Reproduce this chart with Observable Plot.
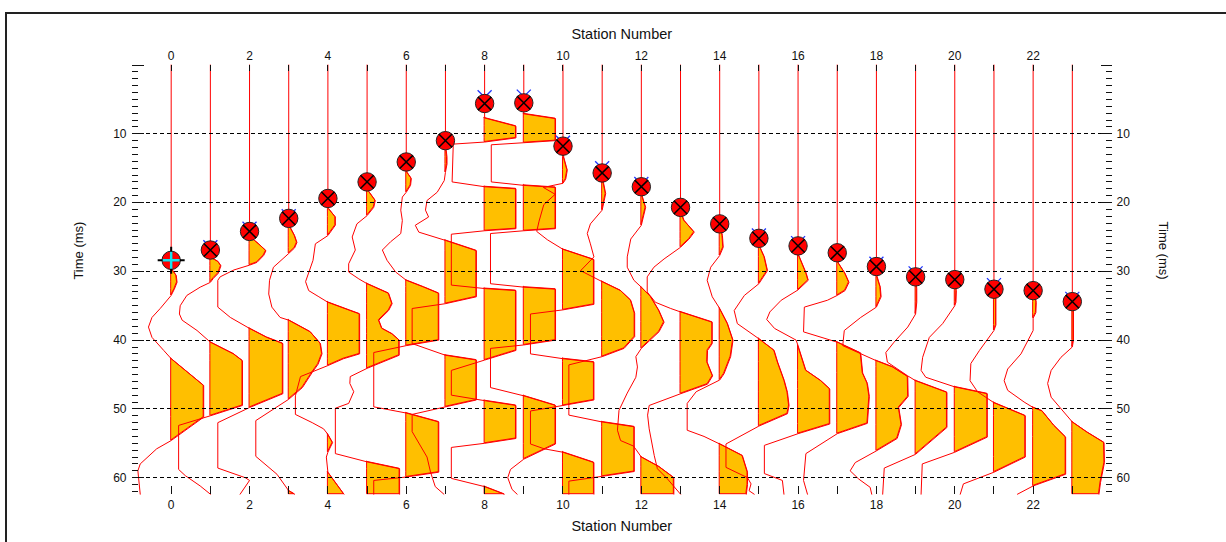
<!DOCTYPE html>
<html>
<head>
<meta charset="utf-8">
<script src="https://cdn.jsdelivr.net/npm/d3@7"></script>
<script src="https://cdn.jsdelivr.net/npm/@observablehq/plot@0.6"></script>
<style>
  html, body { margin: 0; padding: 0; background: #fff; }
  #wrap { position: relative; width: 1226px; height: 542px; overflow: hidden; background: #fff; }
  #edge { position: absolute; left: 5px; top: 12px; width: 1400px; height: 800px;
          border-left: 2px solid #222; border-top: 2px solid #222; }
  #chart { position: absolute; left: 0; top: 0; }
</style>
</head>
<body>
<div id="wrap"><div id="edge"></div><div id="chart"></div></div>
<script>
// Shot gather: one wiggle trace per station, first-break picks on top.
const stationNumbers = [0,1,2,3,4,5,6,7,8,9,10,11,12,13,14,15,16,17,18,19,20,21,22,23];
const stationLabels = [0,2,4,6,8,10,12,14,16,18,20,22];
const timeLabels = [10,20,30,40,50,60];

// First-break picks (ms), one per station
const firstBreaks = [28.4,26.9,24.2,22.3,19.4,17.0,14.1,11.0,5.6,5.5,11.8,15.7,17.7,20.7,23.1,25.2,26.3,27.3,29.3,30.8,31.2,32.6,32.8,34.4];
// Secondary (blue) picks
const altStations = [1,2,3,8,9,10,11,12,15,16,18,19,21,23];
const altBreaks = [26.5,23.8,22.0,4.7,4.6,11.3,15.0,17.3,24.8,25.9,28.9,30.3,32.0,34.0];
// Source position marker
const sourceStations = [0];

// Trace samples: [time ms, amplitude in station spacings]
const trace00 = [[0,0],[28.4,0],[29.8,0.03],[30.6,0.13],[31.6,0.15],[32.6,0.08],[33.5,0],[35.4,-0.28],[36.7,-0.49],[38.1,-0.58],[39.6,-0.49],[41.5,-0.19],[42.7,0],[46.6,0.83],[51.2,0.83],[54.6,0],[55.8,-0.37],[58.0,-0.79],[59.0,-0.85],[62.4,-0.79]];
const trace01 = [[0,0],[26.9,0],[28.0,0.02],[28.6,0.2],[29.2,0.27],[30.3,0.2],[31.0,0.08],[31.6,0],[32.3,-0.26],[33.5,-0.6],[35.0,-0.77],[36.2,-0.79],[37.1,-0.72],[38.6,-0.34],[40.3,0],[42.0,0.59],[43.0,0.82],[49.5,0.82],[51.0,0],[52.4,-0.81],[58.8,-0.81],[59.7,-0.64],[61.2,-0.26],[62.4,0]];
const trace02 = [[0,0],[24.2,0],[25.0,0.02],[26.0,0.23],[27.0,0.42],[27.7,0.36],[28.7,0.19],[29.1,0],[29.8,-0.4],[30.8,-0.75],[31.3,-0.81],[35.2,-0.81],[36.7,-0.49],[38.3,0],[39.6,0.44],[40.5,0.85],[47.8,0.85],[49.8,0],[52.0,-0.81],[58.6,-0.81],[60.0,-0.11],[60.4,0],[62.4,-0.24]];
const trace03 = [[0,0],[22.3,0],[23.4,0.02],[24.8,0.15],[25.8,0.21],[26.6,0.15],[27.4,0],[29.4,-0.39],[31.3,-0.49],[33.3,-0.51],[35.2,-0.43],[36.7,-0.22],[37.1,0],[38.8,0.55],[40.5,0.81],[42.0,0.85],[43.5,0.75],[44.7,0.6],[46.9,0.35],[48.6,0],[51.7,-0.84],[56.9,-0.84],[59.5,-0.3],[61.9,0],[62.4,0.15]];
const trace04 = [[0,0],[19.4,0],[20.9,0.02],[22.1,0.19],[23.3,0.19],[24.8,0],[26.0,-0.32],[28.4,-0.38],[31.5,-0.57],[32.8,-0.49],[33.7,-0.23],[34.5,0],[35.7,0.57],[36.2,0.81],[42.0,0.81],[42.7,0.4],[43.7,0],[45.3,-0.7],[48.1,-0.83],[50.8,-0.83],[52.0,-0.4],[52.9,-0.11],[53.7,0],[54.9,0.12],[56.3,0],[57.0,-0.04],[59.2,0],[62.4,0.41]];
const trace05 = [[0,0],[17.0,0],[18.2,0.02],[19.7,0.21],[20.7,0.17],[21.9,0],[23.1,-0.26],[25.0,-0.38],[26.9,-0.3],[28.9,-0.47],[30.1,-0.47],[31.1,-0.21],[31.8,0],[33.2,0.55],[34.7,0.64],[35.7,0.55],[37.1,0.3],[38.3,0.38],[39.1,0.64],[40.0,0.82],[42.2,0.82],[44.1,0],[45.3,-0.43],[46.3,-0.44],[47.5,-0.34],[49.2,-0.47],[49.9,-0.81],[56.5,-0.81],[57.7,0],[58.7,0.83],[62.4,0.83]];
const trace06 = [[0,0],[14.1,0],[15.6,0.02],[16.5,0.13],[17.5,0.11],[18.5,0],[19.2,-0.1],[21.1,-0.14],[22.6,-0.1],[24.5,-0.14],[25.7,-0.4],[26.9,-0.61],[28.4,-0.49],[30.1,-0.27],[31.3,0],[32.3,0.45],[33.2,0.83],[40.0,0.83],[40.8,0],[41.8,-0.83],[49.7,-0.83],[50.6,0],[51.9,0.83],[59.2,0.83],[59.9,0],[60.4,-0.83],[62.4,-0.83]];
const trace07 = [[0,0],[11.0,0],[12.4,0.02],[13.4,0.04],[14.4,0.04],[15.6,0],[16.8,-0.03],[18.5,-0.21],[19.7,-0.47],[21.1,-0.51],[22.1,-0.43],[23.3,-0.77],[24.3,-0.68],[25.5,0],[27.0,0.79],[33.7,0.79],[34.7,0],[35.4,-0.85],[40.5,-0.85],[42.2,0],[42.9,0.79],[48.7,0.79],[49.7,0],[50.8,-0.85],[53.3,-0.85],[57.0,-0.47],[59.2,-0.38],[61.3,-0.26],[62.4,-0.04]];
const trace08 = [[0,0],[5.6,0],[7.7,0],[8.9,0.8],[10.6,0.8],[11.2,0],[11.5,-0.8],[17.0,-0.83],[17.7,0],[18.0,0.8],[23.8,0.8],[24.1,0],[24.6,-0.85],[32.0,-0.85],[32.5,0],[32.8,0.8],[41.5,0.8],[42.9,0],[44.4,-0.85],[48.0,-0.85],[48.8,0],[49.5,0.8],[54.3,0.8],[55.0,0],[55.6,-0.85],[60.1,-0.85],[61.3,0],[62.4,0.5]];
const trace09 = [[0,0],[5.5,0],[7.1,0],[7.8,0.81],[11.0,0.81],[11.3,0],[11.6,-0.83],[17.0,-0.83],[17.5,0],[17.8,0.81],[23.8,0.81],[24.1,0],[24.5,-0.85],[31.8,-0.85],[32.3,0],[32.6,0.81],[40.0,0.81],[40.7,0],[41.2,-0.85],[46.9,-0.85],[48.1,0],[49.5,0.81],[55.1,0.81],[57.3,0],[58.8,-0.34],[60.0,-0.41],[61.7,-0.3],[62.4,-0.17]];
const trace10 = [[0,0],[11.8,0],[13.4,0.02],[15.3,0.11],[16.6,0.07],[17.2,0],[17.8,-0.5],[18.8,-0.2],[20.3,-0.49],[22.7,-0.61],[24.2,-0.67],[25.4,-0.4],[26.8,0],[28.3,0.79],[34.8,0.79],[35.6,0],[36.2,-0.83],[42.0,-0.83],[42.7,0],[43.2,0.79],[48.7,0.79],[49.5,0],[50.3,-0.83],[55.1,-0.83],[55.8,-0.48],[56.3,0],[57.8,0.79],[62.4,0.79]];
const trace11 = [[0,0],[15.7,0],[17.0,0.03],[18.7,0.09],[21.1,0],[23.1,-0.3],[24.5,-0.38],[26.0,-0.3],[27.9,-0.21],[29.9,-0.55],[31.5,0],[32.8,0.47],[34.2,0.73],[36.1,0.83],[39.5,0.83],[41.2,0.56],[42.4,0],[43.6,-0.85],[50.9,-0.85],[51.9,0],[52.6,0.82],[59.1,0.82],[59.8,0],[60.5,-0.85],[62.4,-0.85]];
const trace12 = [[0,0],[17.7,0],[19.2,0.03],[20.7,0.11],[23.3,0],[25.3,-0.27],[27.9,-0.36],[29.4,-0.36],[31.3,-0.19],[32.3,0],[33.7,0.24],[35.7,0.45],[37.4,0.58],[38.8,0.45],[41.2,0],[42.4,-0.14],[43.9,-0.1],[45.4,-0.14],[47.7,-0.36],[50.2,-0.57],[53.1,-0.61],[54.6,-0.53],[55.4,-0.2],[57.0,0],[58.4,0.45],[60.0,0.83],[62.4,0.83]];
const trace13 = [[0,0],[20.7,0],[21.5,0.02],[22.6,0.09],[24.3,0.35],[25.3,0.22],[26.5,0],[28.2,-0.42],[29.4,-0.68],[30.8,-0.85],[33.0,-0.85],[34.5,-0.64],[35.4,-0.25],[35.9,0],[37.4,0.81],[40.5,0.81],[41.5,0.69],[43.2,0.68],[45.2,0.82],[46.4,0.69],[47.8,0],[49.5,-0.8],[50.9,-0.84],[52.9,-0.8],[56.8,-0.67],[58.7,-0.59],[60.2,-0.33],[62.4,0]];
const trace14 = [[0,0],[23.1,0],[24.8,0.07],[26.5,0.09],[27.7,0],[29.4,-0.23],[31.3,-0.32],[33.7,-0.19],[35.4,0],[37.6,0.2],[40.0,0.34],[42.4,0.28],[44.9,0.11],[45.8,0],[47.5,-0.6],[49.2,-0.83],[53.1,-0.83],[54.0,-0.4],[55.1,0],[56.8,0.58],[59.2,0.71],[61.0,0.71],[62.4,0.68]];
const trace15 = [[0,0],[25.2,0],[26.5,0.03],[27.9,0.14],[29.9,0.22],[31.8,0],[33.5,-0.37],[35.7,-0.63],[37.6,-0.55],[39.8,0],[41.5,0.39],[43.2,0.48],[45.9,0.65],[47.6,0.73],[49.5,0.77],[50.7,0.73],[52.5,0],[55.1,-0.84],[58.5,-0.84],[60.0,-0.29],[60.9,-0.2],[61.9,-0.25],[62.4,-0.12]];
const trace16 = [[0,0],[26.3,0],[27.7,0.02],[30.3,0.21],[31.3,0.26],[32.7,0],[34.2,-0.43],[35.9,-0.72],[37.0,-0.8],[38.3,-0.6],[40.0,-0.05],[40.8,0],[44.4,0.2],[45.9,0.58],[47.1,0.81],[52.2,0.81],[53.6,0],[55.3,-0.86],[59.4,-0.86],[60.4,-0.4],[62.4,-0.36]];
const trace17 = [[0,0],[27.3,0],[28.8,0.03],[30.3,0.2],[31.6,0.3],[32.8,0.2],[33.5,0],[34.2,-0.25],[35.2,-0.84],[38.8,-0.86],[40.3,0],[41.9,0.6],[44.8,0.65],[46.3,0.77],[48.2,0.82],[52.1,0.77],[53.6,0],[56.5,-0.8],[60.4,-0.86],[62.4,-0.76]];
const trace18 = [[0,0],[29.3,0],[30.8,0.02],[32.3,0.1],[33.7,0.12],[35.2,0],[36.7,-0.4],[38.6,-0.82],[40.8,-0.86],[43.0,0],[43.9,0.41],[45.3,0.8],[48.2,0.81],[49.8,0.57],[52.3,0.64],[54.3,0.53],[56.1,0],[57.8,-0.54],[59.0,-0.67],[60.2,-0.45],[61.4,-0.16],[62.4,-0.12]];
const trace19 = [[0,0],[30.8,0],[32.5,0.03],[34.5,0.03],[36.2,0],[38.1,-0.2],[40.3,-0.55],[41.8,-0.76],[43.2,-0.72],[45.2,-0.2],[45.9,0],[47.6,0.8],[52.7,0.8],[56.6,0],[58.6,-0.8],[62.4,-0.84]];
const trace20 = [[0,0],[31.2,0],[32.8,0.04],[34.5,0.03],[35.0,0],[37.6,-0.31],[39.6,-0.65],[42.5,-0.82],[44.4,-0.86],[45.4,-0.74],[46.8,0],[47.8,0.83],[54.1,0.83],[56.3,0],[58.0,-0.83],[62.4,-0.86]];
const trace21 = [[0,0],[32.6,0],[33.5,0.05],[37.8,0.05],[38.6,0],[41.5,-0.37],[43.4,-0.59],[45.9,-0.61],[47.5,-0.42],[49.1,0],[51.0,0.8],[57.0,0.8],[59.2,0],[60.9,-0.78],[62.4,-0.86]];
const trace22 = [[0,0],[32.8,0],[33.6,0.05],[34.5,0.08],[36.0,0.07],[36.8,0],[38.6,0],[42.0,-0.31],[44.2,-0.65],[45.9,-0.74],[47.3,-0.65],[49.0,-0.23],[49.8,0],[50.3,0.23],[52.4,0.53],[54.1,0.83],[59.5,0.83],[61.2,0],[62.4,-0.4]];
const trace23 = [[0,0],[34.4,0],[35.3,0.03],[40.0,0.03],[41.0,0],[42.5,-0.29],[44.4,-0.54],[46.3,-0.63],[48.3,-0.54],[49.7,-0.33],[51.9,0],[53.4,0.38],[54.9,0.81],[57.8,0.82],[60.7,0.72],[62.4,0.68]];

const traces = [trace00,trace01,trace02,trace03,trace04,trace05,trace06,trace07,trace08,trace09,trace10,trace11,
                trace12,trace13,trace14,trace15,trace16,trace17,trace18,trace19,trace20,trace21,trace22,trace23];

// Flatten every trace into rows for the wiggle line
const rows = [];
traces.forEach((tr, i) => tr.forEach(([t, a]) => rows.push({st: stationNumbers[i], t, a})));

// Positive half of each trace, split into separate lobes at the zero crossings
function splitLobes(st, pts) {
  const out = [];
  let id = 0;
  const key = () => st + ":" + id;
  for (let i = 0; i < pts.length; i++) {
    const [t, a] = pts[i];
    if (i > 0) {
      const [tp, ap] = pts[i - 1];
      if (ap > 0 && a <= 0) {
        out.push({st, t: tp + (t - tp) * ap / (ap - a), a: 0, lobe: key()});
        id++;
      } else if (ap <= 0 && a > 0) {
        out.push({st, t: tp + (t - tp) * (-ap) / (a - ap), a: 0, lobe: key()});
      }
    }
    if (a > 0) out.push({st, t, a, lobe: key()});
  }
  return out;
}
const lobeRows = traces.flatMap((tr, i) => splitLobes(stationNumbers[i], tr));

const picks = stationNumbers.map((s, i) => ({station: s, time: firstBreaks[i]}));
const altPicks = altStations.map((s, i) => ({station: s, time: altBreaks[i]}));
const sourcePicks = picks.filter(p => sourceStations.includes(p.station));
const crossedPicks = picks.filter(p => !sourceStations.includes(p.station));

const minorTimes = d3.range(0, 63).filter(t => t % 10 !== 0);
const majorTimes = [0, ...timeLabels];

// Small line-segment symbols (length taken from the dot radius)
const len = size => Math.sqrt(size / Math.PI);
const xMark = {draw(c, s) { const r = len(s); c.moveTo(-r, -r); c.lineTo(r, r); c.moveTo(-r, r); c.lineTo(r, -r); }};
const plusMark = {draw(c, s) { const r = len(s); c.moveTo(-r, 0); c.lineTo(r, 0); c.moveTo(0, -r); c.lineTo(0, r); }};
const tickRight = {draw(c, s) { c.moveTo(0, 0); c.lineTo(len(s), 0); }};
const tickLeft = {draw(c, s) { c.moveTo(0, 0); c.lineTo(-len(s), 0); }};
const tickDown = {draw(c, s) { c.moveTo(0, 0); c.lineTo(0, len(s)); }};
const tickUp = {draw(c, s) { c.moveTo(0, 0); c.lineTo(0, -len(s)); }};

const RED = "#ff0000", FILL = "#ffbf00", INK = "#111";
const font = {fontSize: 12, fill: INK};
const tick = {stroke: INK, strokeWidth: 1, fill: "none", shapeRendering: "crispEdges"};

const chart = Plot.plot({
  width: 1226,
  height: 542,
  marginLeft: 131.5,
  marginRight: 115,
  marginTop: 64.5,
  marginBottom: 48.3,
  style: {fontFamily: "'Liberation Sans', Arial, sans-serif", background: "transparent", overflow: "visible"},
  x: {domain: [-1, 24], axis: null},
  y: {domain: [0, 62.4], reverse: true, axis: null},
  marks: [
    // variable-area fill of the positive lobes
    Plot.areaX(lobeRows, {y: "t", x1: "st", x2: d => d.st + d.a, z: "lobe", fill: FILL, stroke: RED, strokeWidth: 1}),
    // wiggle traces
    Plot.line(rows, {x: d => d.st + d.a, y: "t", z: "st", stroke: RED, strokeWidth: 1}),
    // dashed time grid
    Plot.ruleY(timeLabels, {stroke: "#000", strokeWidth: 1, strokeDasharray: "4,3", shapeRendering: "crispEdges"}),
    // secondary picks
    Plot.dot(altPicks, {x: "station", y: "time", symbol: xMark, r: 7, stroke: "#1f35ff", strokeWidth: 1.3, fill: "none"}),
    // first-break picks
    Plot.dot(picks, {x: "station", y: "time", r: 9.2, fill: RED, stroke: "#222", strokeWidth: 1}),
    Plot.dot(crossedPicks, {x: "station", y: "time", symbol: xMark, r: 6.6, stroke: "#000", strokeWidth: 1.5, fill: "none"}),
    Plot.dot(sourcePicks, {x: "station", y: "time", symbol: plusMark, r: 13.5, stroke: "#000", strokeWidth: 2, fill: "none"}),
    Plot.dot(sourcePicks, {x: "station", y: "time", symbol: plusMark, r: 8.5, stroke: "#19e3f0", strokeWidth: 2.5, fill: "none"}),
    // left time axis
    Plot.dot(minorTimes, {y: d => d, frameAnchor: "left", symbol: tickRight, r: 6, ...tick}),
    Plot.dot(majorTimes, {y: d => d, frameAnchor: "left", symbol: tickRight, r: 12, ...tick}),
    Plot.text(timeLabels, {y: d => d, frameAnchor: "left", dx: -5.5, textAnchor: "end", text: d => String(d), ...font}),
    // right time axis
    Plot.dot(minorTimes, {y: d => d, frameAnchor: "right", symbol: tickLeft, r: 6, ...tick}),
    Plot.dot(majorTimes, {y: d => d, frameAnchor: "right", symbol: tickLeft, r: 10.5, ...tick}),
    Plot.text(timeLabels, {y: d => d, frameAnchor: "right", dx: 5, textAnchor: "start", text: d => String(d), ...font}),
    // station axes, top and bottom
    Plot.dot(stationNumbers, {x: d => d, frameAnchor: "top", symbol: tickDown, r: 6, ...tick}),
    Plot.text(stationLabels, {x: d => d, frameAnchor: "top", dy: -14, text: d => String(d), ...font}),
    Plot.dot(stationNumbers, {x: d => d, frameAnchor: "bottom", symbol: tickUp, r: 8, ...tick}),
    Plot.text(stationLabels, {x: d => d, frameAnchor: "bottom", dy: 14.5, text: d => String(d), ...font}),
    // axis titles
    Plot.text(["Station Number"], {frameAnchor: "top", dy: -36, text: d => d, fontSize: 14.5, fill: INK}),
    Plot.text(["Station Number"], {frameAnchor: "bottom", dy: 36.5, text: d => d, fontSize: 14.5, fill: INK}),
    Plot.text(["Time (ms)"], {frameAnchor: "left", dx: -53, rotate: -90, text: d => d, fontSize: 13, fill: INK}),
    Plot.text(["Time (ms)"], {frameAnchor: "right", dx: 52, rotate: 90, text: d => d, fontSize: 13, fill: INK})
  ]
});
document.getElementById("chart").appendChild(chart);
</script>
</body>
</html>
